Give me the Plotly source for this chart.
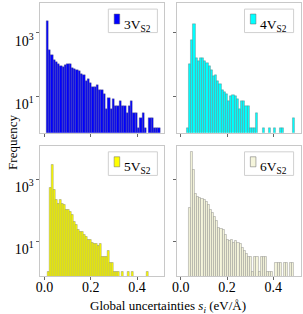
import plotly.graph_objects as go

# ---------------- data (counts per bin, 50 bins each) ----------------
labels = ["3V<sub>S2</sub>", "4V<sub>S2</sub>", "5V<sub>S2</sub>", "6V<sub>S2</sub>"]
bin_lo = [0.007, 0.025, 0.014, 0.033]
bin_hi = [0.500, 0.493, 0.447, 0.490]

counts_3v = [2280, 277, 193, 134, 118, 105, 87, 82, 97, 100,
             100, 78, 73, 67, 62, 48, 47, 31, 35, 26,
             19, 19, 22, 15, 16, 12, 4, 9, 4, 8,
             5, 5, 7, 5, 5, 3, 5, 7, 3, 3,
             1, 2, 3, 1, 0, 2, 2, 1, 1, 1]
counts_4v = [1, 105, 570, 1920, 165, 130, 160, 155, 125, 108,
             90, 65, 42, 47, 31, 24, 15, 13, 12, 7,
             10, 11, 10, 8, 4, 7, 7, 5, 5, 1,
             1, 1, 3, 0, 0, 1, 0, 0, 1, 0,
             1, 0, 0, 1, 1, 0, 0, 0, 0, 2]
counts_5v = [1, 540, 3070, 450, 225, 166, 213, 166, 147, 106,
             106, 89, 70, 42, 33, 23, 20, 20, 16, 14,
             11, 11, 9, 8, 8, 7, 8, 3, 3, 3,
             5, 2, 2, 1, 1, 1, 0, 1, 0, 0,
             1, 0, 1, 0, 0, 0, 0, 0, 0, 1]
counts_6v = [123, 7800, 2000, 352, 274, 254, 242, 213, 189, 147,
             106, 83, 62, 45, 28, 26, 23, 16, 11, 10,
             11, 9, 10, 9, 8, 6, 5, 4, 3, 3,
             1, 3, 3, 1, 3, 3, 3, 1, 1, 1,
             0, 2, 2, 2, 0, 2, 2, 0, 2, 2]
all_counts = [counts_3v, counts_4v, counts_5v, counts_6v]

x_tick_vals = [0.0, 0.2, 0.4]
x_tick_text = ["0.0", "0.2", "0.4"]
y_tick_vals = [10, 1000]
y_tick_text = ["10<sup>1</sup>", "10<sup>3</sup>"]

# ---------------- styling ----------------
fills = ["#0000ff", "#00ffff", "#ffff00", "#f5f5dc"]
edge = "#666666"
FONT = "Liberation Serif"
W, H = 303, 314

col_px = [(36, 162), (174.5, 300.5)]
row_px = [(3, 132.7), (145.7, 276)]
row_range = [[-0.158, 3.94], [-0.134, 4.09]]
x_range = [-0.018, 0.518]

fig = go.Figure()
layout = dict(width=W, height=H, margin=dict(l=0, r=0, t=0, b=0),
              paper_bgcolor="white", plot_bgcolor="white",
              showlegend=False, bargap=0,
              font=dict(family=FONT, color="black"))
shapes, annotations = [], []

for i in range(4):
    r, c = divmod(i, 2)
    n = len(all_counts[i])
    w = (bin_hi[i] - bin_lo[i]) / n
    xs = [bin_lo[i] + (k + 0.5) * w for k in range(n)]
    ys = [v if v > 0 else None for v in all_counts[i]]
    ax = "" if i == 0 else str(i + 1)
    fig.add_trace(go.Bar(x=xs, y=ys, width=w, xaxis="x" + ax, yaxis="y" + ax,
                         marker=dict(color=fills[i], line=dict(color=edge, width=0.35))))
    x0, x1 = col_px[c]
    y0, y1 = row_px[r]
    layout["xaxis" + ax] = dict(domain=[x0 / W, x1 / W], anchor="y" + ax, range=x_range,
                                tickvals=x_tick_vals, ticktext=x_tick_text,
                                showticklabels=(r == 1), ticks="outside", ticklen=3,
                                tickcolor="#666", showline=True, mirror=True,
                                linecolor="#c8c8c8", linewidth=1, showgrid=False,
                                zeroline=False, ticklabelstandoff=-5,
                                tickfont=dict(size=14, family=FONT))
    layout["yaxis" + ax] = dict(domain=[1 - y1 / H, 1 - y0 / H], anchor="x" + ax,
                                type="log", range=row_range[r],
                                tickvals=y_tick_vals, ticktext=y_tick_text,
                                showticklabels=(c == 0), ticks="outside", ticklen=3,
                                tickcolor="#666", showline=True, mirror=True,
                                linecolor="#c8c8c8", linewidth=1, showgrid=False,
                                zeroline=False, ticklabelshift=8,
                                tickfont=dict(size=14, family=FONT))
    xr, yr = "x" + ax + " domain", "y" + ax + " domain"
    shapes.append(dict(type="rect", xref=xr, yref=yr, x0=0.548, x1=0.944,
                       y0=0.772, y1=0.953, line=dict(color="#d0d0d0", width=1),
                       fillcolor="rgba(255,255,255,0.85)", layer="above"))
    shapes.append(dict(type="rect", xref=xr, yref=yr, x0=0.595, x1=0.640,
                       y0=0.838, y1=0.915, line=dict(color=edge, width=0.5),
                       fillcolor=fills[i], layer="above"))
    annotations.append(dict(text=labels[i], xref=xr, yref=yr, x=0.66, y=0.91,
                            xanchor="left", yanchor="top", showarrow=False,
                            font=dict(size=13.5, family=FONT)))

annotations.append(dict(text="Frequency", xref="paper", yref="paper",
                        x=7 / W, y=1 - 142 / H, xanchor="center", yanchor="middle",
                        textangle=-90, showarrow=False, font=dict(size=13, family=FONT)))
annotations.append(dict(text="Global uncertainties <i>s<sub>i</sub></i> (eV/Å)",
                        xref="paper", yref="paper", x=166 / W, y=1 - 306 / H,
                        xanchor="center", yanchor="middle", showarrow=False,
                        font=dict(size=13, family=FONT)))
layout["shapes"] = shapes
layout["annotations"] = annotations
fig.update_layout(**layout)
fig.write_html("out.html", config={"displayModeBar": False},
               post_script="document.body.style.margin='0';document.body.style.overflow='hidden';")
